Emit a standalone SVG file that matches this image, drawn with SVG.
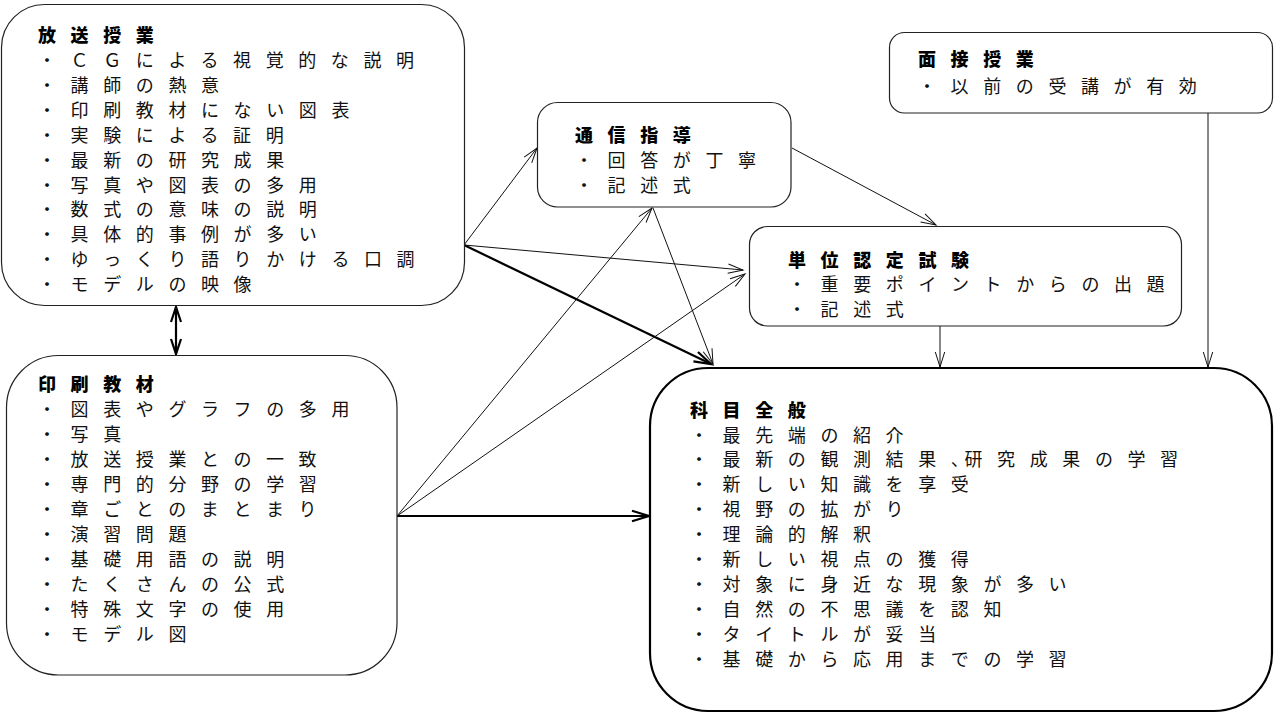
<svg xmlns="http://www.w3.org/2000/svg" width="1275" height="713" viewBox="0 0 1275 713">
<style>
.bg{fill:#fff}
.box{fill:#fff;stroke:#222;stroke-width:1.2}
.main{fill:#fff;stroke:#000;stroke-width:2.2}
text{font-family:"Noto Sans CJK JP","Noto Sans CJK SC",sans-serif;font-size:18px;letter-spacing:14.6px;fill:#111}
.t{font-weight:900;fill:#000}
.c{fill:none;stroke:#111;stroke-width:1}
.k{fill:none;stroke:#000;stroke-width:2.2}
</style>
<defs>
<marker id="a" markerUnits="userSpaceOnUse" markerWidth="20" markerHeight="14" viewBox="0 0 20 14" refX="16" refY="7" orient="auto">
<path d="M1,2.3 L16,7 L1,11.7" fill="none" stroke="#111" stroke-width="1"/>
</marker>
<marker id="ak" markerUnits="userSpaceOnUse" markerWidth="22" markerHeight="16" viewBox="0 0 22 16" refX="18" refY="8" orient="auto">
<path d="M1,2.8 L18,8 L1,13.2" fill="none" stroke="#000" stroke-width="2.2"/>
</marker>
<marker id="ad" markerUnits="userSpaceOnUse" markerWidth="20" markerHeight="14" viewBox="0 0 20 14" refX="16" refY="7" orient="auto-start-reverse">
<path d="M1,2 L16,7 L1,12" fill="none" stroke="#000" stroke-width="2.2"/>
</marker>
</defs>
<rect class="bg" x="0" y="0" width="1275" height="713"/>

<g id="connectors">
<line class="c" x1="464" y1="245" x2="537" y2="148" marker-end="url(#a)"/>
<line class="c" x1="464" y1="245" x2="743" y2="270" marker-end="url(#a)"/>
<line class="k" x1="464" y1="245" x2="711" y2="364" marker-end="url(#ak)"/>
<line class="c" x1="653" y1="208" x2="713" y2="364" marker-end="url(#a)"/>
<line class="c" x1="397" y1="516" x2="652" y2="208" marker-end="url(#a)"/>
<line class="c" x1="397" y1="516" x2="745" y2="274" marker-end="url(#a)"/>
<line class="k" x1="397" y1="516" x2="649" y2="516" marker-end="url(#ak)"/>
<line class="c" x1="792" y1="148" x2="936" y2="225" marker-end="url(#a)"/>
<line class="c" x1="940" y1="326" x2="940" y2="367" marker-end="url(#a)"/>
<line class="c" x1="1208" y1="113" x2="1208" y2="367" marker-end="url(#a)"/>
<line class="k" x1="176" y1="307" x2="176" y2="354" marker-start="url(#ad)" marker-end="url(#ad)"/>
</g>

<g id="n1">
<rect class="box" x="1.5" y="4.5" width="463" height="301" rx="43"/>
<text class="t" x="38" y="42">放送授業</text>
<text x="38" y="67">・ＣＧによる視覚的な説明</text>
<text x="38" y="91.9">・講師の熱意</text>
<text x="38" y="116.8">・印刷教材にない図表</text>
<text x="38" y="141.7">・実験による証明</text>
<text x="38" y="166.6">・最新の研究成果</text>
<text x="38" y="191.5">・写真や図表の多用</text>
<text x="38" y="216.4">・数式の意味の説明</text>
<text x="38" y="241.3">・具体的事例が多い</text>
<text x="38" y="266.2">・ゆっくり語りかける口調</text>
<text x="38" y="291.1">・モデルの映像</text>
</g>

<g id="n2">
<rect class="box" x="6.5" y="355.5" width="390.5" height="319.5" rx="52"/>
<text class="t" x="38" y="391">印刷教材</text>
<text x="38" y="416">・図表やグラフの多用</text>
<text x="38" y="441">・写真</text>
<text x="38" y="466">・放送授業との一致</text>
<text x="38" y="491">・専門的分野の学習</text>
<text x="38" y="516">・章ごとのまとまり</text>
<text x="38" y="541">・演習問題</text>
<text x="38" y="566">・基礎用語の説明</text>
<text x="38" y="591">・たくさんの公式</text>
<text x="38" y="616">・特殊文字の使用</text>
<text x="38" y="641">・モデル図</text>
</g>

<g id="n3">
<rect class="box" x="537.5" y="102.5" width="253.5" height="104.5" rx="20"/>
<text class="t" x="575" y="141.5">通信指導</text>
<text x="575" y="167.3">・回答が丁寧</text>
<text x="575" y="192.3">・記述式</text>
</g>

<g id="n4">
<rect class="box" x="749.5" y="226.5" width="432" height="99.5" rx="18"/>
<text class="t" x="788" y="266.5">単位認定試験</text>
<text x="788" y="290.7">・重要ポイントからの出題</text>
<text x="788" y="315.7">・記述式</text>
</g>

<g id="n5">
<rect class="box" x="889.5" y="32.5" width="383" height="80.5" rx="15"/>
<text class="t" x="918" y="66">面接授業</text>
<text x="918" y="92.5">・以前の受講が有効</text>
</g>

<g id="n6">
<rect class="main" x="650" y="368" width="622" height="343" rx="58"/>
<text class="t" x="690" y="417.3">科目全般</text>
<text x="690" y="441.5">・最先端の紹介</text>
<text x="690" y="466.4">・最新の観測結果、<tspan x="964.5">研究成果の学習</tspan></text>
<text x="690" y="491.3">・新しい知識を享受</text>
<text x="690" y="516.2">・視野の拡がり</text>
<text x="690" y="541.1">・理論的解釈</text>
<text x="690" y="566">・新しい視点の獲得</text>
<text x="690" y="590.9">・対象に身近な現象が多い</text>
<text x="690" y="615.8">・自然の不思議を認知</text>
<text x="690" y="640.7">・タイトルが妥当</text>
<text x="690" y="665.6">・基礎から応用までの学習</text>
</g>
</svg>
